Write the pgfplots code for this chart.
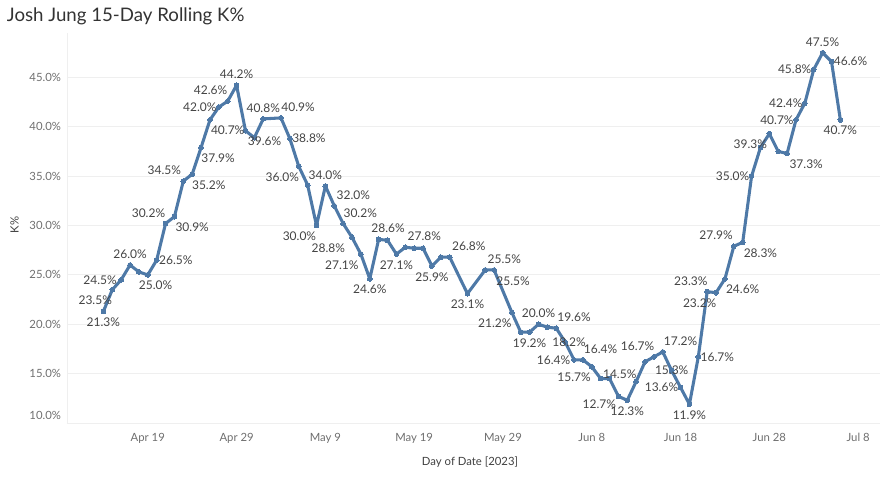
\documentclass[border=0pt]{standalone}
\usepackage{fontspec}
\setmainfont{Lato}
\usepackage{pgfplots}
\pgfplotsset{compat=1.18}
\usepackage{pgfplotstable}

\definecolor{tblue}{HTML}{4E79A7}
\definecolor{lbl}{HTML}{444444}
\definecolor{tickc}{HTML}{6E6E6E}
\definecolor{gridc}{HTML}{EFEFEF}

% day index counted from Apr 14, 2023 (no row on off days)
\pgfplotstableread{
d v
0 21.3
1 23.5
2 24.5
3 26.0
4 25.3
5 25.0
6 26.5
7 30.2
8 30.9
9 34.5
10 35.2
11 37.9
12 40.7
13 42.0
14 42.6
15 44.2
16 39.6
17 38.9
18 40.8
20 40.9
21 38.8
22 36.0
23 34.1
24 30.0
25 34.0
26 32.0
27 30.2
28 28.8
29 27.1
30 24.6
31 28.6
32 28.5
33 27.1
34 27.8
35 27.7
36 27.7
37 25.9
38 26.8
39 26.8
41 23.1
43 25.5
44 25.5
46 21.2
47 19.2
48 19.2
49 20.0
50 19.7
51 19.6
52 18.2
53 16.4
54 16.4
55 15.7
56 14.5
57 14.5
58 12.7
59 12.3
60 14.2
61 16.2
62 16.7
63 17.2
64 15.3
65 13.6
66 11.9
67 16.7
68 23.3
69 23.2
70 24.6
71 27.9
72 28.3
73 35.0
74 37.9
75 39.3
76 37.5
77 37.3
78 40.7
79 42.4
80 45.8
81 47.5
82 46.6
83 40.7
}\kdata

% labelled points, label anchor and small nudges (pt)
\pgfplotstableread[col sep=comma]{
d,v,a,dx,dy
0,21.3,north,0,0
1,23.5,north east,1.5,0
2,24.5,east,-1.5,0
3,26.0,south,0,0
5,25.0,north,5.8,0
6,26.5,west,0,0
7,30.2,south east,1.5,0
8,30.9,north west,-1,0
9,34.5,south east,0,0
10,35.2,north west,-1.9,0
11,37.9,north west,-1.6,0
12,40.7,north west,-1,0
13,42.0,east,0,0
14,42.6,south east,1.5,0
15,44.2,south,0,0
16,39.6,north west,0,0
18,40.8,south,0,0
20,40.9,south west,-1.5,0
21,38.8,west,0,0
22,36.0,north east,2,0
24,30.0,north east,1.5,0
25,34.0,south,0,0
26,32.0,south west,0,0
27,30.2,south west,-1.5,0
28,28.8,north east,-3.5,0
29,27.1,north east,0,0
30,24.6,north,0,0
31,28.6,south,7,0
33,27.1,north,0,0
34,27.8,south west,0,0
37,25.9,north,0,0
39,26.8,south west,0,0
41,23.1,north,0,0
43,25.5,south west,0,0
44,25.5,north west,0,0
46,21.2,north east,1.5,0
48,19.2,north,0,0
49,20.0,south,0,0
51,19.6,south west,-1,0
52,18.2,center,3,0
53,16.4,east,-1,0
54,16.4,south west,-1,0
55,15.7,north east,1,0
56,14.5,west,0,3
58,12.7,north east,0,2
59,12.3,north,0,0
62,16.7,south east,2,0
63,17.2,south west,-1,0
64,15.3,center,0,0
65,13.6,east,0,0
66,11.9,north,0,0
67,16.7,west,0,0
68,23.3,south east,2,0
69,23.2,north east,2,0
70,24.6,north west,-1,0
71,27.9,south east,1,0
72,28.3,north west,-1,0
73,35.0,east,0,0
75,39.3,north east,0,0
77,37.3,north west,0,0
78,40.7,east,0,0
79,42.4,east,0,0
80,45.8,east,0,0
81,47.5,south,0,0
82,46.6,west,0,0
83,40.7,north,0,0
}\klabels

\begin{document}
\begin{tikzpicture}
\useasboundingbox (0,0) rectangle (661.5pt,357.75pt);
\node[anchor=west, inner sep=0pt, text=black!80, font=\fontsize{14}{17}\selectfont]
  at (5pt,345.5pt) {Josh Jung 15-Day Rolling K\%};
\node[rotate=90, text=black!75, font=\fontsize{8.5}{10}\selectfont] at (11pt,189pt) {K\%};
\node[text=black!75, font=\fontsize{8.5}{10}\selectfont] at (352.5pt,11.25pt) {Day of Date [2023]};
\begin{axis}[
    at={(50.25pt,40.5pt)}, anchor=south west,
    scale only axis, width=610pt, height=292.5pt,
    xmin=-4.1, xmax=87.5, ymin=10, ymax=49.5,
    axis x line=bottom, axis y line=left,
    axis line style={draw=gridc, -},
    ytick={15,20,...,45},
    extra y ticks={10},
    extra y tick style={yticklabel style={yshift=6pt}},
    yticklabel={\pgfmathprintnumber[fixed,fixed zerofill,precision=1]{\tick}\%},
    xtick={5,15,...,85},
    xticklabels={Apr 19,Apr 29,May 9,May 19,May 29,Jun 8,Jun 18,Jun 28,Jul 8},
    ymajorgrids, grid style={gridc, line width=0.6pt},
    major tick length=0pt,
    tick label style={font=\fontsize{8.5}{10}\selectfont, text=tickc},
    xticklabel style={yshift=-4pt},
    yticklabel style={xshift=-1pt},
    /pgf/number format/assume math mode=true,
    clip=false,
  ]
\addplot[tblue, line width=2.3pt, line join=round, mark=*, mark size=1.8pt,
  mark options={fill=tblue, draw=tblue, line width=0pt}]
  table[x=d, y=v] {\kdata};
\addplot[draw=none, mark=none,
  point meta=explicit symbolic,
  visualization depends on={\thisrow{v}\as\labv},
  visualization depends on={\thisrow{dx}\as\ldx},
  visualization depends on={\thisrow{dy}\as\ldy},
  nodes near coords={\pgfmathprintnumber[fixed,fixed zerofill,precision=1]{\labv}\%},
  every node near coord/.append style={anchor=\pgfplotspointmeta,
    inner xsep=1.6pt, inner ysep=4.6pt,
    xshift=\ldx pt, yshift=\ldy pt, text=lbl, font=\fontsize{9}{10}\selectfont}]
  table[x=d, y=v, meta=a] {\klabels};
\end{axis}
\end{tikzpicture}
\end{document}
